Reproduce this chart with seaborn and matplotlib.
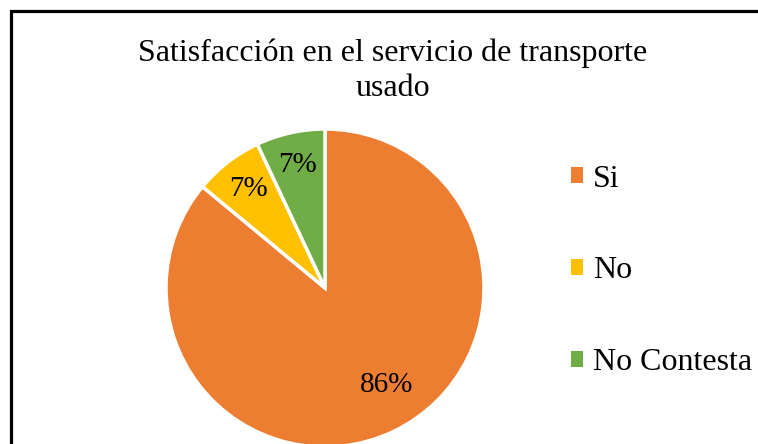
import matplotlib

matplotlib.use("Agg")
import matplotlib.pyplot as plt
import seaborn as sns
from matplotlib.patches import Patch, Rectangle

# datos
categorias = ["Si", "No", "No Contesta"]
porcentajes = [86, 7, 7]
colores = ["#ED7D31", "#FFC000", "#70AD47"]
titulo = "Satisfacción en el servicio de transporte\nusado"

W, H = 758, 444

sns.set_theme(style="white")
plt.rcParams["font.family"] = ["Liberation Serif", "DejaVu Serif"]
plt.rcParams["text.color"] = "black"

fig = plt.figure(figsize=(W / 100, H / 100), dpi=100)
fig.patch.set_facecolor("white")

# pie: centro (325, 288) px, radio 159 px
r = 159
ax = fig.add_axes([(325 - r) / W, (H - 288 - r) / H, 2 * r / W, 2 * r / H])
wedges, texts, autotexts = ax.pie(
    porcentajes,
    colors=colores,
    startangle=90,
    counterclock=False,
    autopct=lambda p: f"{p:.0f}%",
    pctdistance=0.79,
    wedgeprops={"edgecolor": "white", "linewidth": 2.5},
    textprops={"fontsize": 21, "color": "black"},
)
for w in wedges:
    w.set_clip_on(False)
ax.set_xlim(-1, 1)
ax.set_ylim(-1, 1)
ax.set_aspect("equal")
ax.axis("off")

# Excel pone la etiqueta del 86% algo mas arriba y hacia dentro
autotexts[0].set_position((0.39, -0.61))

fig.text(393 / W, 1 - 38 / H, titulo, ha="center", va="top", fontsize=23,
         linespacing=1.3, color="black")

handles = [Patch(facecolor=c, edgecolor="none") for c in colores]
leg = fig.legend(
    handles,
    categorias,
    loc="center left",
    bbox_to_anchor=(571 / W, (H - 271) / H),
    frameon=False,
    fontsize=23,
    handlelength=0.38,
    handleheight=0.38,
    handletextpad=0.32,
    labelspacing=1.97,
    borderpad=0,
    borderaxespad=0,
)
for t in leg.get_texts():
    t.set_color("black")

# marco del area del grafico (lados derecho e inferior quedan fuera)
fig.patches.append(Rectangle((11 / W, -0.2), 2, (H - 11) / H + 0.2,
                             transform=fig.transFigure, fill=False,
                             edgecolor="black", linewidth=2.3))

fig.savefig("out.png", dpi=100, facecolor="white")
